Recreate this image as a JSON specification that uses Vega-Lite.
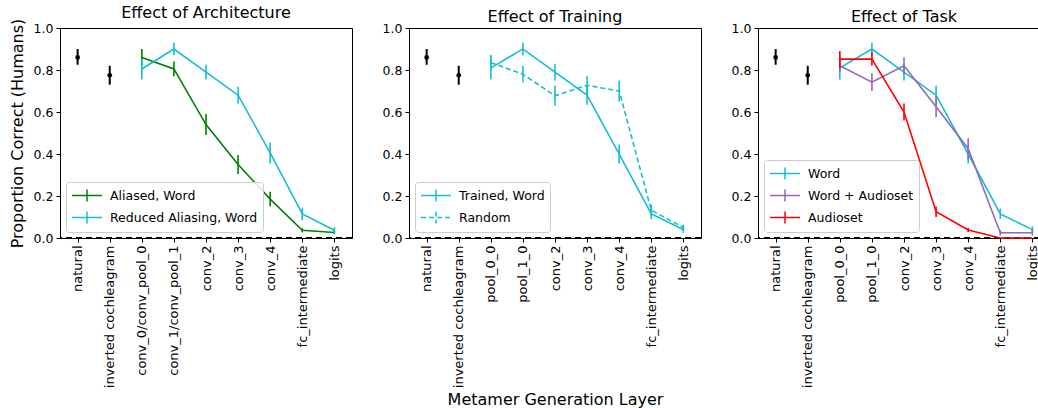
{
  "$schema": "https://vega.github.io/schema/vega-lite/v6.json",
  "padding": {"left": 8, "top": 4, "right": 0, "bottom": 0},
  "background": "white",
  "spacing": 27,
  "config": {
    "font": "DejaVu Sans",
    "view": {"stroke": "black", "strokeWidth": 1},
    "axis": {"grid": false, "domainColor": "black", "tickColor": "black", "labelColor": "black", "titleColor": "black", "labelFontSize": 12.5, "tickSize": 4, "labelPadding": 3, "titleFontWeight": "normal", "titleFontSize": 16},
    "axisX": {"labelFontSize": 13},
    "title": {"fontSize": 16, "fontWeight": "normal", "color": "black", "offset": -3},
    "legend": {"orient": "bottom-left", "offset": 6, "fillColor": "rgba(255,255,255,0.85)", "strokeColor": "#cccccc", "padding": 5, "cornerRadius": 3, "labelFontSize": 12.5, "labelColor": "black", "symbolType": "M-1,0H3M1,-0.8V0.8", "symbolSize": 225, "symbolStrokeWidth": 1.5, "rowPadding": 3, "labelOffset": 22}
  },
  "datasets": {
    "rows": [
      {"panel": "arch", "series": "human", "layer": "natural", "y": 0.86, "lo": 0.825, "hi": 0.9},
      {"panel": "arch", "series": "human", "layer": "inverted cochleagram", "y": 0.775, "lo": 0.73, "hi": 0.82},
      {"panel": "arch", "series": "Aliased, Word", "layer": "conv_0/conv_pool_0", "y": 0.86, "lo": 0.82, "hi": 0.9},
      {"panel": "arch", "series": "Aliased, Word", "layer": "conv_1/conv_pool_1", "y": 0.805, "lo": 0.77, "hi": 0.84},
      {"panel": "arch", "series": "Aliased, Word", "layer": "conv_2", "y": 0.54, "lo": 0.49, "hi": 0.59},
      {"panel": "arch", "series": "Aliased, Word", "layer": "conv_3", "y": 0.35, "lo": 0.305, "hi": 0.395},
      {"panel": "arch", "series": "Aliased, Word", "layer": "conv_4", "y": 0.185, "lo": 0.15, "hi": 0.22},
      {"panel": "arch", "series": "Aliased, Word", "layer": "fc_intermediate", "y": 0.037, "lo": 0.027, "hi": 0.047},
      {"panel": "arch", "series": "Aliased, Word", "layer": "logits", "y": 0.026, "lo": 0.018, "hi": 0.034},
      {"panel": "arch", "series": "Reduced Aliasing, Word", "layer": "conv_0/conv_pool_0", "y": 0.805, "lo": 0.755, "hi": 0.855},
      {"panel": "arch", "series": "Reduced Aliasing, Word", "layer": "conv_1/conv_pool_1", "y": 0.9, "lo": 0.87, "hi": 0.93},
      {"panel": "arch", "series": "Reduced Aliasing, Word", "layer": "conv_2", "y": 0.79, "lo": 0.755, "hi": 0.825},
      {"panel": "arch", "series": "Reduced Aliasing, Word", "layer": "conv_3", "y": 0.68, "lo": 0.64, "hi": 0.72},
      {"panel": "arch", "series": "Reduced Aliasing, Word", "layer": "conv_4", "y": 0.405, "lo": 0.355, "hi": 0.455},
      {"panel": "arch", "series": "Reduced Aliasing, Word", "layer": "fc_intermediate", "y": 0.115, "lo": 0.085, "hi": 0.145},
      {"panel": "arch", "series": "Reduced Aliasing, Word", "layer": "logits", "y": 0.037, "lo": 0.022, "hi": 0.052},

      {"panel": "train", "series": "human", "layer": "natural", "y": 0.86, "lo": 0.825, "hi": 0.9},
      {"panel": "train", "series": "human", "layer": "inverted cochleagram", "y": 0.775, "lo": 0.73, "hi": 0.82},
      {"panel": "train", "series": "Trained, Word", "layer": "pool_0_0", "y": 0.81, "lo": 0.755, "hi": 0.87},
      {"panel": "train", "series": "Trained, Word", "layer": "pool_1_0", "y": 0.9, "lo": 0.87, "hi": 0.93},
      {"panel": "train", "series": "Trained, Word", "layer": "conv_2", "y": 0.79, "lo": 0.75, "hi": 0.83},
      {"panel": "train", "series": "Trained, Word", "layer": "conv_3", "y": 0.68, "lo": 0.635, "hi": 0.725},
      {"panel": "train", "series": "Trained, Word", "layer": "conv_4", "y": 0.4, "lo": 0.355, "hi": 0.445},
      {"panel": "train", "series": "Trained, Word", "layer": "fc_intermediate", "y": 0.115, "lo": 0.09, "hi": 0.14},
      {"panel": "train", "series": "Trained, Word", "layer": "logits", "y": 0.04, "lo": 0.025, "hi": 0.055},
      {"panel": "train", "series": "Random", "layer": "pool_0_0", "y": 0.835, "lo": 0.8, "hi": 0.87},
      {"panel": "train", "series": "Random", "layer": "pool_1_0", "y": 0.78, "lo": 0.74, "hi": 0.82},
      {"panel": "train", "series": "Random", "layer": "conv_2", "y": 0.677, "lo": 0.63, "hi": 0.725},
      {"panel": "train", "series": "Random", "layer": "conv_3", "y": 0.727, "lo": 0.685, "hi": 0.77},
      {"panel": "train", "series": "Random", "layer": "conv_4", "y": 0.7, "lo": 0.65, "hi": 0.75},
      {"panel": "train", "series": "Random", "layer": "fc_intermediate", "y": 0.132, "lo": 0.105, "hi": 0.16},
      {"panel": "train", "series": "Random", "layer": "logits", "y": 0.05, "lo": 0.037, "hi": 0.063},

      {"panel": "task", "series": "human", "layer": "natural", "y": 0.86, "lo": 0.825, "hi": 0.9},
      {"panel": "task", "series": "human", "layer": "inverted cochleagram", "y": 0.775, "lo": 0.73, "hi": 0.82},
      {"panel": "task", "series": "Word", "layer": "pool_0_0", "y": 0.81, "lo": 0.755, "hi": 0.87},
      {"panel": "task", "series": "Word", "layer": "pool_1_0", "y": 0.9, "lo": 0.87, "hi": 0.93},
      {"panel": "task", "series": "Word", "layer": "conv_2", "y": 0.79, "lo": 0.75, "hi": 0.83},
      {"panel": "task", "series": "Word", "layer": "conv_3", "y": 0.68, "lo": 0.635, "hi": 0.725},
      {"panel": "task", "series": "Word", "layer": "conv_4", "y": 0.4, "lo": 0.355, "hi": 0.445},
      {"panel": "task", "series": "Word", "layer": "fc_intermediate", "y": 0.115, "lo": 0.09, "hi": 0.14},
      {"panel": "task", "series": "Word", "layer": "logits", "y": 0.04, "lo": 0.025, "hi": 0.055},
      {"panel": "task", "series": "Word + Audioset", "layer": "pool_0_0", "y": 0.82, "lo": 0.79, "hi": 0.85},
      {"panel": "task", "series": "Word + Audioset", "layer": "pool_1_0", "y": 0.742, "lo": 0.7, "hi": 0.785},
      {"panel": "task", "series": "Word + Audioset", "layer": "conv_2", "y": 0.82, "lo": 0.78, "hi": 0.86},
      {"panel": "task", "series": "Word + Audioset", "layer": "conv_3", "y": 0.625, "lo": 0.575, "hi": 0.675},
      {"panel": "task", "series": "Word + Audioset", "layer": "conv_4", "y": 0.425, "lo": 0.375, "hi": 0.475},
      {"panel": "task", "series": "Word + Audioset", "layer": "fc_intermediate", "y": 0.025, "lo": 0.012, "hi": 0.038},
      {"panel": "task", "series": "Word + Audioset", "layer": "logits", "y": 0.025, "lo": 0.012, "hi": 0.038},
      {"panel": "task", "series": "Audioset", "layer": "pool_0_0", "y": 0.852, "lo": 0.81, "hi": 0.89},
      {"panel": "task", "series": "Audioset", "layer": "pool_1_0", "y": 0.852, "lo": 0.82, "hi": 0.885},
      {"panel": "task", "series": "Audioset", "layer": "conv_2", "y": 0.6, "lo": 0.56, "hi": 0.64},
      {"panel": "task", "series": "Audioset", "layer": "conv_3", "y": 0.125, "lo": 0.1, "hi": 0.15},
      {"panel": "task", "series": "Audioset", "layer": "conv_4", "y": 0.038, "lo": 0.028, "hi": 0.048},
      {"panel": "task", "series": "Audioset", "layer": "fc_intermediate", "y": 0.0, "lo": 0.0, "hi": 0.0},
      {"panel": "task", "series": "Audioset", "layer": "logits", "y": 0.0, "lo": 0.0, "hi": 0.0}
    ]
  },
  "hconcat": [
    {
      "width": 292, "height": 210,
      "title": "Effect of Architecture",
      "data": {"name": "rows"},
      "layer": [
        {"data": {"values": [{}]}, "mark": {"type": "rule", "color": "black", "strokeWidth": 2, "strokeDash": [6, 4]}, "encoding": {"y": {"datum": 0, "type": "quantitative", "scale": {"domain": [0, 1], "nice": false}, "axis": {"title": "Proportion Correct (Humans)", "values": [0, 0.2, 0.4, 0.6, 0.8, 1.0], "format": ".1f", "titlePadding": 8}}}},
        {"transform": [{"filter": "datum.panel == 'arch' && datum.series == 'human'"}], "mark": {"type": "rule", "color": "black", "strokeWidth": 2}, "encoding": {"x": {"field": "layer", "type": "ordinal", "scale": {"type": "point", "padding": 0.55, "domain": ["natural", "inverted cochleagram", "conv_0/conv_pool_0", "conv_1/conv_pool_1", "conv_2", "conv_3", "conv_4", "fc_intermediate", "logits"]}, "axis": {"labelAngle": -90, "title": null}}, "y": {"field": "lo", "type": "quantitative"}, "y2": {"field": "hi"}}},
        {"transform": [{"filter": "datum.panel == 'arch' && datum.series == 'human'"}], "mark": {"type": "circle", "color": "black", "size": 22, "opacity": 1}, "encoding": {"x": {"field": "layer", "type": "ordinal"}, "y": {"field": "y", "type": "quantitative"}}},
        {"transform": [{"filter": "datum.panel == 'arch' && datum.series != 'human'"}], "mark": {"type": "line", "strokeWidth": 1.6}, "encoding": {"x": {"field": "layer", "type": "ordinal", "sort": null}, "y": {"field": "y", "type": "quantitative"}, "color": {"field": "series", "type": "nominal", "scale": {"domain": ["Aliased, Word", "Reduced Aliasing, Word"], "range": ["#008000", "#17becf"]}, "legend": {"title": null}}}},
        {"transform": [{"filter": "datum.panel == 'arch' && datum.series != 'human'"}], "mark": {"type": "rule", "strokeWidth": 1.6}, "encoding": {"x": {"field": "layer", "type": "ordinal"}, "y": {"field": "lo", "type": "quantitative"}, "y2": {"field": "hi"}, "color": {"field": "series", "type": "nominal"}}}
      ]
    },
    {
      "width": 292, "height": 210,
      "title": "Effect of Training",
      "data": {"name": "rows"},
      "layer": [
        {"data": {"values": [{}]}, "mark": {"type": "rule", "color": "black", "strokeWidth": 2, "strokeDash": [6, 4]}, "encoding": {"y": {"datum": 0, "type": "quantitative", "scale": {"domain": [0, 1], "nice": false}, "axis": {"title": null, "values": [0, 0.2, 0.4, 0.6, 0.8, 1.0], "format": ".1f"}}}},
        {"transform": [{"filter": "datum.panel == 'train' && datum.series == 'human'"}], "mark": {"type": "rule", "color": "black", "strokeWidth": 2}, "encoding": {"x": {"field": "layer", "type": "ordinal", "scale": {"type": "point", "padding": 0.55, "domain": ["natural", "inverted cochleagram", "pool_0_0", "pool_1_0", "conv_2", "conv_3", "conv_4", "fc_intermediate", "logits"]}, "axis": {"labelAngle": -90, "title": "Metamer Generation Layer", "titlePadding": 4}}, "y": {"field": "lo", "type": "quantitative"}, "y2": {"field": "hi"}}},
        {"transform": [{"filter": "datum.panel == 'train' && datum.series == 'human'"}], "mark": {"type": "circle", "color": "black", "size": 22, "opacity": 1}, "encoding": {"x": {"field": "layer", "type": "ordinal"}, "y": {"field": "y", "type": "quantitative"}}},
        {"transform": [{"filter": "datum.panel == 'train' && datum.series != 'human'"}], "mark": {"type": "line", "strokeWidth": 1.6}, "encoding": {"x": {"field": "layer", "type": "ordinal", "sort": null}, "y": {"field": "y", "type": "quantitative"}, "color": {"field": "series", "type": "nominal", "scale": {"domain": ["Trained, Word", "Random"], "range": ["#17becf", "#17becf"]}, "legend": {"title": null}}, "strokeDash": {"field": "series", "type": "nominal", "scale": {"domain": ["Trained, Word", "Random"], "range": [[1, 0], [5, 3]]}, "legend": {"title": null}}}},
        {"transform": [{"filter": "datum.panel == 'train' && datum.series != 'human'"}], "mark": {"type": "rule", "strokeWidth": 1.6}, "encoding": {"x": {"field": "layer", "type": "ordinal"}, "y": {"field": "lo", "type": "quantitative"}, "y2": {"field": "hi"}, "color": {"field": "series", "type": "nominal"}}}
      ]
    },
    {
      "width": 292, "height": 210,
      "title": "Effect of Task",
      "data": {"name": "rows"},
      "layer": [
        {"data": {"values": [{}]}, "mark": {"type": "rule", "color": "black", "strokeWidth": 2, "strokeDash": [6, 4]}, "encoding": {"y": {"datum": 0, "type": "quantitative", "scale": {"domain": [0, 1], "nice": false}, "axis": {"title": null, "values": [0, 0.2, 0.4, 0.6, 0.8, 1.0], "format": ".1f"}}}},
        {"transform": [{"filter": "datum.panel == 'task' && datum.series == 'human'"}], "mark": {"type": "rule", "color": "black", "strokeWidth": 2}, "encoding": {"x": {"field": "layer", "type": "ordinal", "scale": {"type": "point", "padding": 0.55, "domain": ["natural", "inverted cochleagram", "pool_0_0", "pool_1_0", "conv_2", "conv_3", "conv_4", "fc_intermediate", "logits"]}, "axis": {"labelAngle": -90, "title": null}}, "y": {"field": "lo", "type": "quantitative"}, "y2": {"field": "hi"}}},
        {"transform": [{"filter": "datum.panel == 'task' && datum.series == 'human'"}], "mark": {"type": "circle", "color": "black", "size": 22, "opacity": 1}, "encoding": {"x": {"field": "layer", "type": "ordinal"}, "y": {"field": "y", "type": "quantitative"}}},
        {"transform": [{"filter": "datum.panel == 'task' && datum.series != 'human'"}], "mark": {"type": "line", "strokeWidth": 1.6}, "encoding": {"x": {"field": "layer", "type": "ordinal", "sort": null}, "y": {"field": "y", "type": "quantitative"}, "color": {"field": "series", "type": "nominal", "scale": {"domain": ["Word", "Word + Audioset", "Audioset"], "range": ["#17becf", "#9467bd", "#ff0000"]}, "legend": {"title": null}}}},
        {"transform": [{"filter": "datum.panel == 'task' && datum.series != 'human'"}], "mark": {"type": "rule", "strokeWidth": 1.6}, "encoding": {"x": {"field": "layer", "type": "ordinal"}, "y": {"field": "lo", "type": "quantitative"}, "y2": {"field": "hi"}, "color": {"field": "series", "type": "nominal"}}}
      ]
    }
  ],
  "resolve": {"scale": {"color": "independent", "strokeDash": "independent", "x": "independent", "y": "independent"}, "legend": {"color": "independent", "strokeDash": "independent"}}
}
